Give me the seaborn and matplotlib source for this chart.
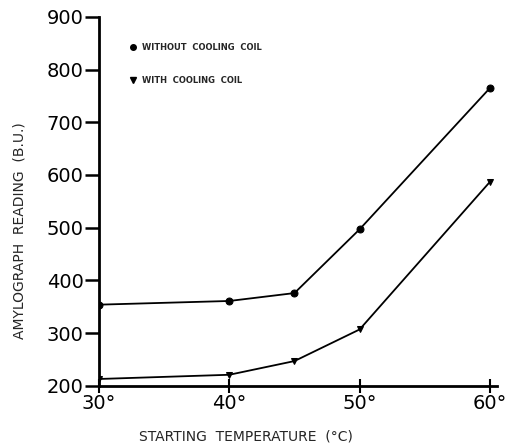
import matplotlib
matplotlib.use("Agg")
import matplotlib.pyplot as plt
import seaborn as sns
import pandas as pd
from matplotlib.lines import Line2D

temps = [30, 40, 45, 50, 60]
without_coil = [354, 361, 376, 497, 765]
with_coil = [213, 221, 247, 307, 587]
series_names = ["WITHOUT  COOLING  COIL", "WITH  COOLING  COIL"]
x_ticks = [30, 40, 50, 60]
x_tick_labels = ["30°", "40°", "50°", "60°"]
y_ticks = [200, 300, 400, 500, 600, 700, 800, 900]

df = pd.DataFrame({
    "temp": temps * 2,
    "reading": without_coil + with_coil,
    "series": [series_names[0]] * len(temps) + [series_names[1]] * len(temps),
})

sns.set_style("white")
plt.rcParams['font.family'] = ['DejaVu Sans']

fig = plt.figure(figsize=(5.13, 4.44), dpi=100)
ax = fig.add_axes([0.193, 0.131, 0.776, 0.831])

sns.lineplot(data=df, x="temp", y="reading", hue="series", style="series",
             markers={series_names[0]: "o", series_names[1]: "v"},
             dashes=False, palette=["black", "black"], linewidth=1.3,
             markersize=5, markeredgecolor="black", ax=ax, legend=False)

ax.set_xlim(30, 60.55)
ax.set_ylim(200, 900)
ax.set_xticks(x_ticks)
ax.set_xticklabels(x_tick_labels, fontsize=14)
ax.set_yticks(y_ticks)
ax.set_yticklabels([str(v) for v in y_ticks], fontsize=14)
for s in ["top", "right"]:
    ax.spines[s].set_visible(False)
for s in ["left", "bottom"]:
    ax.spines[s].set_linewidth(2)
    ax.spines[s].set_color("black")
ax.tick_params(axis="y", left=True, direction="out", length=10, width=1.8, pad=1, colors="black")
ax.tick_params(axis="x", bottom=True, direction="inout", length=10, width=1.5, pad=1, colors="black")

ax.set_xlabel("STARTING  TEMPERATURE  (°C)", fontsize=10)
ax.set_ylabel("AMYLOGRAPH  READING  (B.U.)", fontsize=10)
ax.xaxis.set_label_coords(0.37, -0.118)
ax.yaxis.set_label_coords(-0.183, 0.42)

handles = [Line2D([], [], marker="o", color="black", linestyle="none", markersize=4),
           Line2D([], [], marker="v", color="black", linestyle="none", markersize=4)]
ax.legend(handles, series_names, loc="upper left", bbox_to_anchor=(0.055, 0.95),
          frameon=False, prop={"size": 6, "weight": "bold"},
          handletextpad=0.6, labelspacing=2.9, handlelength=1.0)

fig.savefig("out.png", dpi=100)
